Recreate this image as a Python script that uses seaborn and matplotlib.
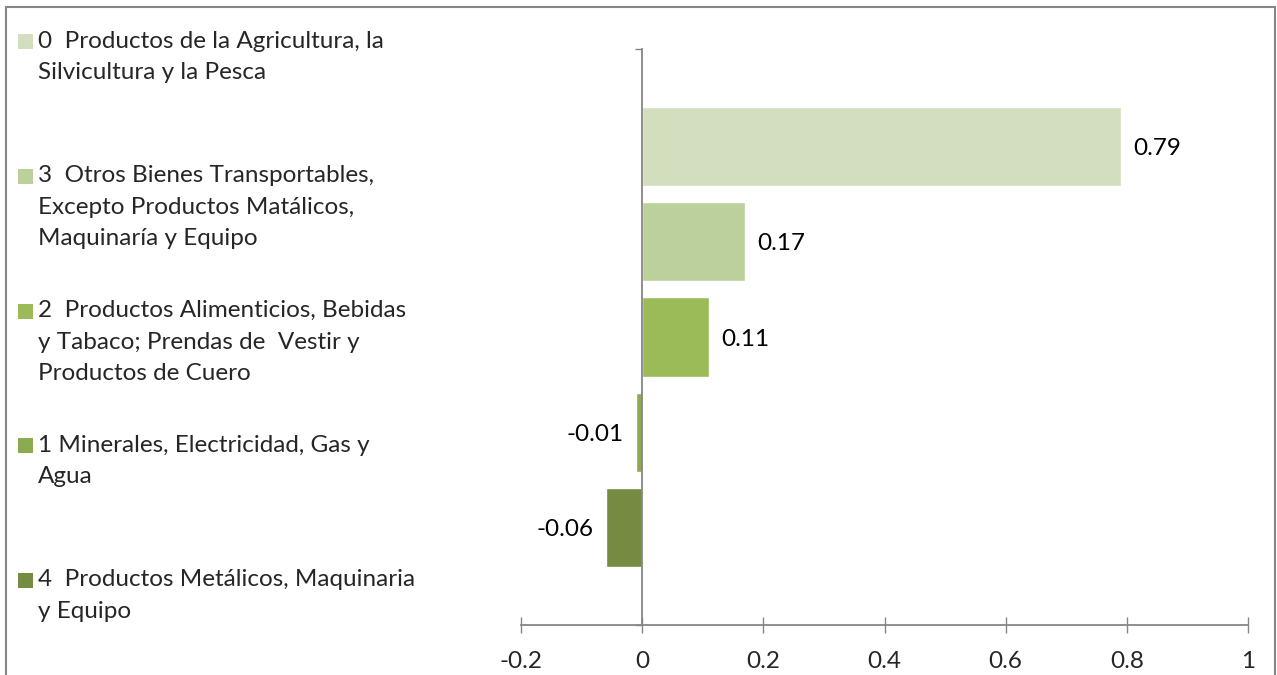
import matplotlib
matplotlib.use("Agg")
import matplotlib.pyplot as plt
from matplotlib.patches import Rectangle
import seaborn as sns
import pandas as pd

# ---- data ----
series_labels = [
    "0  Productos de la Agricultura, la\nSilvicultura y la Pesca",
    "3  Otros Bienes Transportables,\nExcepto Productos Matálicos,\nMaquinaría y Equipo",
    "2  Productos Alimenticios, Bebidas\ny Tabaco; Prendas de  Vestir y\nProductos de Cuero",
    "1 Minerales, Electricidad, Gas y\nAgua",
    "4  Productos Metálicos, Maquinaria\ny Equipo",
]
values = [0.79, 0.17, 0.11, -0.01, -0.06]
colors = ["#D2DEBE", "#BCD09B", "#9BBB59", "#8CAB51", "#758B41"]
x_ticks = [-0.2, 0, 0.2, 0.4, 0.6, 0.8, 1.0]
x_tick_labels = ["-0.2", "0", "0.2", "0.4", "0.6", "0.8", "1"]

sns.set_style("white")
plt.rcParams["font.family"] = ["Lato", "DejaVu Sans"]
FS = 17.5
GRAY = "#868686"

W, H = 1277, 675
fig = plt.figure(figsize=(W / 100, H / 100), dpi=100)
ax = fig.add_axes([521 / W, 1 - 625 / H, (1248 - 521) / W, (625 - 49) / H])

df = pd.DataFrame({"grp": [""] * len(values), "serie": series_labels, "value": values})
sns.barplot(data=df, x="value", y="grp", hue="serie", hue_order=series_labels,
            palette=colors, saturation=1, width=0.825, gap=0.168, orient="h",
            legend=False, ax=ax)

for cont, v in zip(ax.containers, values):
    texts = ax.bar_label(cont, labels=[f"{v:g}"], padding=9, fontsize=FS, color="black")
    for t in texts:
        t.set_va("center_baseline")

ax.set_xlim(-0.2, 1.0)
ax.set_ylim(0.5, -0.5)
ax.set_xticks(x_ticks)
ax.set_xticklabels(x_tick_labels, fontsize=FS)
ax.set_yticks([-0.5, 0.5])
ax.set_yticklabels(["", ""])
ax.set_xlabel("")
ax.set_ylabel("")

for s in ["top", "right"]:
    ax.spines[s].set_visible(False)
ax.spines["left"].set_position(("data", 0))
for s in ["left", "bottom"]:
    ax.spines[s].set_color(GRAY)
    ax.spines[s].set_linewidth(1.3)
ax.tick_params(axis="x", bottom=True, direction="inout", length=12, width=1,
               color=GRAY, pad=13)
ax.tick_params(axis="y", left=True, direction="out", length=5, width=1, color=GRAY)

# legend (left)
for i, (lab, col) in enumerate(zip(series_labels, colors)):
    yc = 41.5 + i * 134.75
    fig.patches.append(Rectangle((18 / W, 1 - (yc + 7.5) / H), 15 / W, 15 / H,
                                 transform=fig.transFigure, facecolor=col, edgecolor="none"))
    fig.text(38 / W, 1 - (yc - 11) / H, lab, fontsize=FS, va="top", ha="left",
             linespacing=1.62)

# outer frame
fig.patches.append(Rectangle((6 / W, -0.05), (1275 - 6) / W, 1 - 7 / H + 0.05,
                             transform=fig.transFigure, facecolor="none",
                             edgecolor=GRAY, linewidth=1.5))

fig.savefig("out.png", dpi=100)
